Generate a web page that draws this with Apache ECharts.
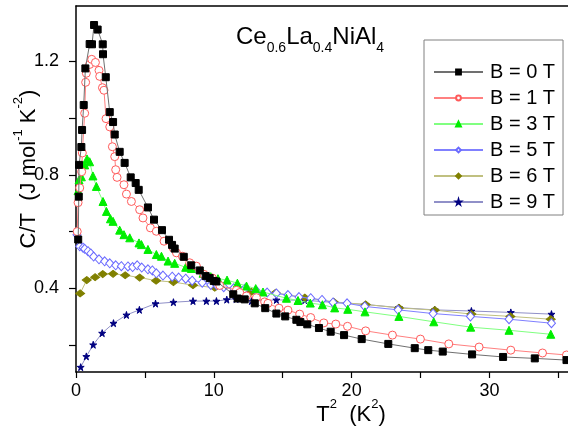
<!DOCTYPE html>
<html><head><meta charset="utf-8">
<script src="https://cdn.jsdelivr.net/npm/echarts@6/dist/echarts.min.js"></script>
<style>html,body{margin:0;padding:0;background:#fff}#c{width:568px;height:429px}</style>
</head><body><div id="c"></div>
<script>
// ---- data (T^2 in K^2, C/T in J mol^-1 K^-2) ----
const legendNames = ['B = 0 T','B = 1 T','B = 3 T','B = 5 T','B = 6 T','B = 9 T'];
const xTicks = [0,5,10,15,20,25,30,35];
const xLabels = [0,10,20,30];
const yTicks = [0.2,0.4,0.6,0.8,1.0,1.2];
const yLabels = [0.4,0.8,1.2];

const b0x = [0.16,0.2,0.22,0.39,0.44,0.56,0.68,0.99,1.16,1.31,1.57,1.94,1.96,2.16,2.45,2.69,2.81,3.17,3.53,3.97,4.33,4.55,5.22,5.66,6.24,6.75,6.97,7.16,7.82,8.36,8.98,9.41,9.7,9.99,10.19,11.41,11.73,12.24,12.97,13.73,14.54,15.18,15.99,16.28,16.78,17.63,18.48,19.45,20.73,22.66,24.58,25.56,26.61,28.74,30.99,33.29,35.59];
const b0y = [0.572,0.723,0.835,0.898,0.958,1.046,1.175,1.261,1.26,1.328,1.312,1.26,1.225,1.144,1.021,0.986,0.942,0.881,0.842,0.791,0.771,0.747,0.685,0.642,0.605,0.571,0.553,0.540,0.511,0.481,0.463,0.443,0.436,0.426,0.424,0.379,0.364,0.361,0.347,0.330,0.311,0.301,0.289,0.281,0.273,0.260,0.247,0.235,0.221,0.204,0.189,0.182,0.177,0.167,0.158,0.153,0.147];

const b1x = [0.09,0.15,0.27,0.41,0.46,0.63,0.70,0.75,0.99,1.14,1.41,1.67,1.72,1.92,2.03,2.18,2.45,2.64,2.81,2.88,2.98,3.48,3.66,4.02,4.62,4.86,5.40,5.83,6.39,7.04,7.29,7.72,8.25,8.74,9.29,9.90,10.43,11.64,11.88,12.37,13.09,13.69,13.93,14.73,15.38,16.23,17.03,17.98,18.85,19.70,21.02,22.96,24.99,27.05,29.25,31.55,33.85,35.59];
const b1y = [0.600,0.702,0.754,0.811,0.877,1.017,1.126,1.158,1.189,1.207,1.196,1.168,1.147,1.107,1.098,0.998,0.969,0.899,0.864,0.818,0.791,0.765,0.732,0.706,0.677,0.648,0.613,0.601,0.566,0.543,0.525,0.513,0.490,0.478,0.449,0.436,0.410,0.393,0.385,0.373,0.367,0.352,0.347,0.330,0.323,0.309,0.297,0.278,0.274,0.266,0.250,0.235,0.221,0.204,0.193,0.182,0.172,0.165];

const b3x = [0.15,0.22,0.39,0.63,0.80,0.99,1.23,1.48,1.96,2.21,2.50,2.69,3.17,3.48,3.90,4.57,4.75,5.22,5.83,6.20,6.68,7.16,7.96,8.37,9.22,9.78,10.30,10.96,11.71,12.37,13.04,13.57,15.27,16.11,17.0,17.88,18.77,19.72,20.97,23.43,25.96,28.64,31.42,34.45];
const b3y = [0.744,0.782,0.793,0.835,0.856,0.846,0.796,0.759,0.706,0.671,0.645,0.636,0.605,0.589,0.578,0.560,0.554,0.537,0.519,0.513,0.496,0.488,0.474,0.470,0.453,0.441,0.434,0.429,0.418,0.408,0.399,0.387,0.365,0.357,0.348,0.342,0.331,0.326,0.317,0.301,0.282,0.263,0.252,0.238];

const b5x = [0.07,0.27,0.51,0.63,0.87,1.07,1.28,1.67,2.08,2.45,2.88,3.29,3.77,4.11,4.44,4.77,5.22,5.54,5.83,6.31,6.98,7.45,7.96,8.43,9.16,9.78,10.19,10.72,11.44,12.24,13.13,13.87,14.54,15.38,16.18,17.03,17.85,18.65,19.67,20.95,23.37,25.91,28.62,31.42,34.5];
const b5y = [0.589,0.548,0.543,0.539,0.531,0.523,0.512,0.502,0.495,0.488,0.481,0.478,0.477,0.475,0.481,0.473,0.467,0.463,0.453,0.445,0.441,0.438,0.434,0.427,0.420,0.412,0.412,0.404,0.400,0.398,0.389,0.385,0.382,0.376,0.369,0.365,0.359,0.350,0.347,0.336,0.324,0.311,0.301,0.291,0.277];

const b6x = [0.3,0.78,1.39,1.94,2.69,3.57,4.62,5.81,7.07,8.49,10.07,11.64,12.73,14.48,16.6,18.7,21.02,23.43,26.03,28.69,31.52,34.45];
const b6y = [0.382,0.429,0.439,0.450,0.451,0.446,0.438,0.427,0.422,0.411,0.402,0.400,0.388,0.384,0.367,0.352,0.343,0.331,0.323,0.309,0.301,0.291];

const b9x = [0.34,0.75,1.25,1.90,2.72,3.66,4.60,5.77,7.07,8.49,9.46,10.19,10.94,11.61,12.73,14.54,16.6,18.7,21.01,23.43,26.03,28.69,31.55,34.5];
const b9y = [0.122,0.160,0.201,0.242,0.277,0.306,0.324,0.346,0.351,0.355,0.355,0.355,0.360,0.362,0.355,0.359,0.358,0.350,0.343,0.332,0.324,0.320,0.315,0.309];

// ---- chart ----
const FONT = "'Liberation Sans', Arial, sans-serif";
const zip = (xs, ys) => xs.map((x, i) => [x, ys[i]]);
const STAR = 'path://M50,0 L61,35 L98,35 L68,57 L79,91 L50,70 L21,91 L32,57 L2,35 L39,35 Z';

const styles = [
  {symbol:'rect', size:7, fill:'#000000', border:'#000000', line:'#707070'},
  {symbol:'circle', size:8, fill:'#ffffff', border:'#ff5a5a', line:'#ff8080'},
  {symbol:'triangle', size:8, fill:'#00ee00', border:'#00ee00', line:'#80ff80'},
  {symbol:'diamond', size:[8,9], fill:'#ffffff', border:'#6a6aff', line:'#8080ff'},
  {symbol:'diamond', size:[9,7], fill:'#808000', border:'#808000', line:'#c0c080'},
  {symbol:STAR, size:7, fill:'#000080', border:'#000080', line:'#9090c8'}
];
const datasets = [zip(b0x,b0y), zip(b1x,b1y), zip(b3x,b3y), zip(b5x,b5y), zip(b6x,b6y), zip(b9x,b9y)];

const series = datasets.map((d, i) => ({
  name: legendNames[i], type: 'line', data: d, xAxisIndex: 0, yAxisIndex: 0,
  symbol: styles[i].symbol, symbolSize: styles[i].size, showAllSymbol: true,
  lineStyle: {color: styles[i].line, width: 1},
  itemStyle: {color: styles[i].fill, borderColor: styles[i].border, borderWidth: 1},
  emphasis: {disabled: true}, animation: false, z: 2 + (5 - i) * 0.1
}));

const chart = echarts.init(document.getElementById('c'), null, {renderer: 'canvas'});
chart.setOption({
  animation: false,
  backgroundColor: '#fff',
  grid: {left: 76, right: 0, top: 6, bottom: 57},
  xAxis: [{
    type: 'value', min: 0, max: 35.7, position: 'bottom',
    axisLine: {show: true, onZero: false, lineStyle: {color: '#000', width: 1.5}},
    axisTick: {show: true, inside: false, length: 6, customValues: xTicks, lineStyle: {color: '#000', width: 1.2}},
    axisLabel: {customValues: xLabels, margin: 10, color: '#000', fontSize: 18, fontFamily: FONT},
    splitLine: {show: false}
  }, {
    type: 'value', min: 0, max: 35.7, position: 'top',
    axisLine: {show: true, onZero: false, lineStyle: {color: '#000', width: 1.5}},
    axisTick: {show: false}, axisLabel: {show: false}, splitLine: {show: false}
  }],
  yAxis: {
    type: 'value', min: 0.105, max: 1.395,
    axisLine: {show: true, onZero: false, lineStyle: {color: '#000', width: 1.5}},
    axisTick: {show: true, inside: false, length: 7, customValues: yTicks, lineStyle: {color: '#000', width: 1.2}},
    axisLabel: {customValues: yLabels, margin: 17, color: '#000', fontSize: 18, fontFamily: FONT,
      formatter: v => v.toFixed(1)},
    splitLine: {show: false}
  },
  legend: {
    orient: 'vertical', left: 424, top: 40,
    padding: [22, 8, 3, 9], itemGap: 6, itemWidth: 49, itemHeight: 6,
    borderColor: '#808080', borderWidth: 1, backgroundColor: '#fff',
    textStyle: {fontSize: 20, color: '#000', fontFamily: FONT, padding: [0, 0, 0, 2]},
    data: legendNames, selectedMode: false
  },
  graphic: [
    {type: 'text', x: 26, y: 169, rotation: Math.PI / 2,
     style: {text: '{a|C/T  (J mol}{s|-1}{a| K}{s|-2}{a|)}', align: 'center', verticalAlign: 'middle',
       rich: {a: {fontSize: 22, fontFamily: FONT, fill: '#000', lineHeight: 28, verticalAlign: 'bottom'},
              s: {fontSize: 13, fontFamily: FONT, fill: '#000', lineHeight: 28, verticalAlign: 'top'}}}},
    {type: 'text', x: 351, y: 412,
     style: {text: '{a|T}{s|2}{a|  (K}{s|2}{a|)}', align: 'center', verticalAlign: 'middle',
       rich: {a: {fontSize: 22, fontFamily: FONT, fill: '#000', lineHeight: 28, verticalAlign: 'bottom'},
              s: {fontSize: 13, fontFamily: FONT, fill: '#000', lineHeight: 28, verticalAlign: 'top'}}}},
    {type: 'text', x: 236, y: 40,
     style: {text: '{a|Ce}{s|0.6}{a|La}{s|0.4}{a|NiAl}{s|4}', align: 'left', verticalAlign: 'middle',
       rich: {a: {fontSize: 24, fontFamily: FONT, fill: '#000', lineHeight: 30, verticalAlign: 'top'},
              s: {fontSize: 14, fontFamily: FONT, fill: '#000', lineHeight: 30, verticalAlign: 'bottom'}}}}
  ],
  series: series
});
</script>
</body></html>
